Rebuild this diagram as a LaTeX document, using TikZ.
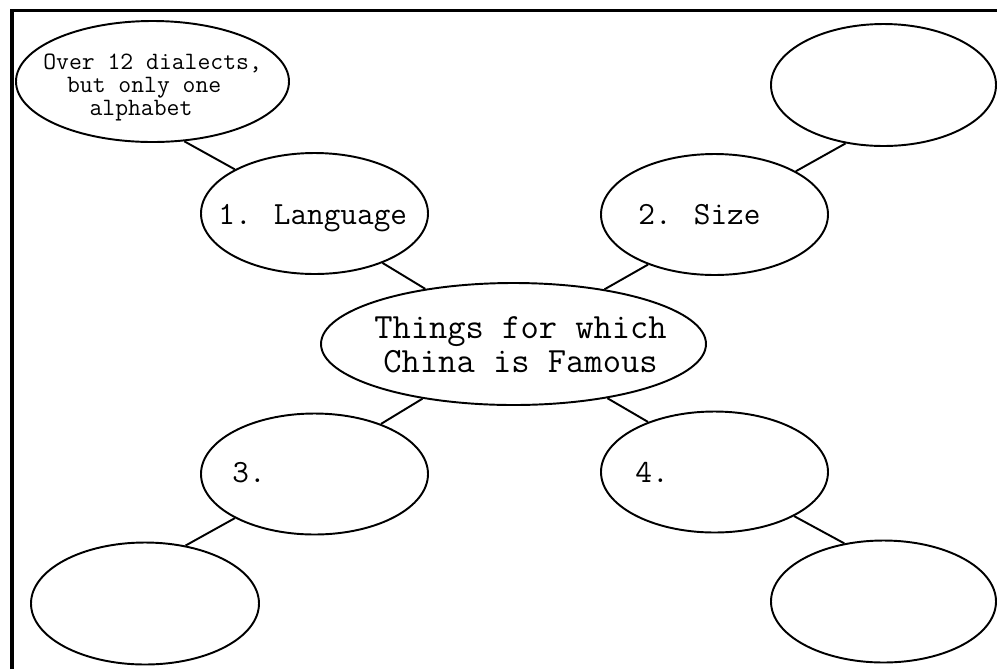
\documentclass[tikz,border=0pt]{standalone}
\usepackage{fontspec}
\usepackage{tikz}
\usetikzlibrary{shapes.geometric, positioning}

\begin{document}
\begin{tikzpicture}[
    bubble/.style={ellipse, draw, line width=1.1pt, minimum width=4.54cm, minimum height=2.42cm, inner sep=0pt},
    outer/.style={bubble, minimum width=4.5cm, minimum height=2.44cm},
    link/.style={line width=1.1pt},
    tag/.style={font=\ttfamily\fontsize{18.4}{20}\selectfont, inner sep=0pt, anchor=base west},
    frame/.style={line width=2pt}
]
    \useasboundingbox (0,0) rectangle (19.94,-13.38);
    \draw[frame] (0.24,-13.38) |- (19.94,-0.21);

    % Central topic
    \node[bubble, minimum width=7.7cm, minimum height=2.44cm] (china) at (10.27,-6.88) {};
    \node[font=\ttfamily\fontsize{20.2}{19.2}\selectfont, align=center, inner sep=0pt] (title) at ([xshift=0.14cm, yshift=-0.02cm]china.center) {Things for which\\China is Famous};

    % Numbered topics
    \node[bubble] (lang) at (6.29,-4.27) {};
    \node[bubble] (size) at (14.29,-4.29) {};
    \node[bubble] (three) at (6.29,-9.48) {};
    \node[bubble] (four) at (14.29,-9.44) {};
    \node[tag] (langtext) at ([xshift=0.36cm, yshift=-0.21cm]lang.west) {1. Language};
    \node[tag] (sizetext) at ([xshift=0.76cm, yshift=-0.19cm]size.west) {2. Size};
    \node[tag] (threetext) at ([xshift=0.64cm, yshift=-0.16cm]three.west) {3.};
    \node[tag] (fourtext) at ([xshift=0.70cm, yshift=-0.20cm]four.west) {4.};

    % Details
    \node[bubble, minimum width=5.46cm] (dialects) at (3.05,-1.63) {};
    \node[font=\ttfamily\fontsize{14.2}{13.1}\selectfont, align=left, inner sep=0pt, anchor=west] (dialectstext) at ([xshift=0.56cm, yshift=-0.12cm]dialects.west) {Over 12 dialects,\\\hspace*{0.95em}but only one\\\hspace*{1.85em}alphabet};
    \node[outer] (sizenote) at (17.67,-1.70) {};
    \node[outer, minimum width=4.56cm] (threenote) at (2.90,-12.07) {};
    \node[outer] (fournote) at (17.67,-12.03) {};

    % Connectors
    \draw[link] (dialects.-62) -- (lang.151);
    \draw[link] (lang.-36) -- (china.148);
    \draw[link] (size.-143) -- (china.31);
    \draw[link] (sizenote.-123) -- (size.28);
    \draw[link] (china.-149) -- (three.37);
    \draw[link] (china.-30) -- (four.143);
    \draw[link] (three.-151) -- (threenote.55);
    \draw[link] (four.-29) -- (fournote.124);
\end{tikzpicture}
\end{document}
